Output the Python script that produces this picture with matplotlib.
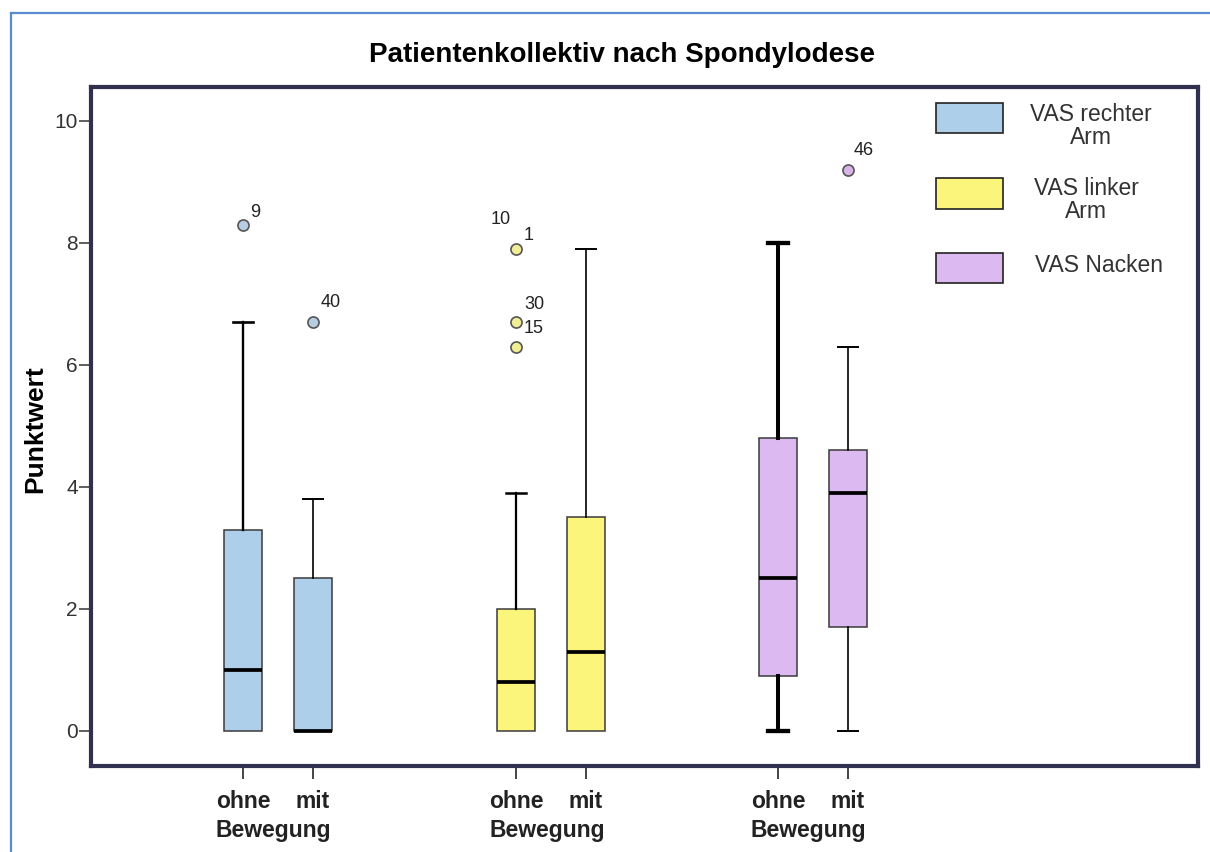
import matplotlib
matplotlib.use("Agg")
import matplotlib.pyplot as plt
from matplotlib.patches import Rectangle
from matplotlib.lines import Line2D

plt.rcParams['font.family'] = ['Liberation Sans', 'DejaVu Sans']

# ---- data -------------------------------------------------------------
series = ["VAS rechter\nArm", "VAS linker\nArm", "VAS Nacken"]
conditions = ["ohne", "mit"]
group_label = "Bewegung"

# five-number summaries per (series, condition): low whisker, Q1, median, Q3, high whisker
whislo = [0.0, 0.0, 0.0, 0.0, 0.0, 0.0]
q1 = [0.0, 0.0, 0.0, 0.0, 0.9, 1.7]
med = [1.0, 0.0, 0.8, 1.3, 2.5, 3.9]
q3 = [3.3, 2.5, 2.0, 3.5, 4.8, 4.6]
whishi = [6.7, 3.8, 3.9, 7.9, 8.0, 6.3]

# outliers (value, case number) per box
outliers = [
    [(8.3, "9")],
    [(6.7, "40")],
    [(7.9, "10"), (6.7, "30"), (6.3, "15")],
    [],
    [],
    [(9.2, "46")],
]
# extra case sharing an outlier value (drawn as second label)
shared_labels = {2: [(7.9, "1")]}

y_ticks = [0, 2, 4, 6, 8, 10]

# ---- styling ------------------------------------------------------------
box_colors = ["#aecfea", "#fbf57c", "#dcb9f0"]
flier_colors = ["#b7cde4", "#f1ef95", "#d9b2e6"]
frame_color = "#30304f"
whisker_lw = [1.7, 1.2, 1.6, 1.2, 2.9, 1.2]

W, H = 1210, 852
fig = plt.figure(figsize=(W / 100, H / 100), dpi=100)
ax = fig.add_axes([91 / W, (H - 766) / H, (1198 - 91) / W, (766 - 87) / H])


def fx(x):
    return x / W


def fy(y):
    return 1 - y / H


group_centers = [1.5, 5.4, 9.14]
positions = []
for c in group_centers:
    positions += [c - 0.5, c + 0.5]

stats = []
for i in range(6):
    stats.append(dict(whislo=whislo[i], q1=q1[i], med=med[i], q3=q3[i],
                      whishi=whishi[i], fliers=[v for v, _ in outliers[i]]))

bp = ax.bxp(stats, positions=positions, widths=0.54, capwidths=0.29,
            patch_artist=True, showfliers=True, manage_ticks=False)

for i in range(6):
    g = i // 2
    box = bp['boxes'][i]
    box.set_facecolor(box_colors[g])
    box.set_edgecolor("#3a3a3a")
    box.set_linewidth(1.1)
    bp['medians'][i].set_color("black")
    bp['medians'][i].set_linewidth(2.7)
    bp['medians'][i].set_zorder(3)
    for k in (2 * i, 2 * i + 1):
        bp['whiskers'][k].set_color("black")
        bp['whiskers'][k].set_linewidth(whisker_lw[i])
        bp['caps'][k].set_color("black")
        bp['caps'][k].set_linewidth(whisker_lw[i] + 0.2)
    # no lower whisker or cap when it coincides with the box edge
    if whislo[i] == q1[i]:
        bp['whiskers'][2 * i].set_visible(False)
        bp['caps'][2 * i].set_visible(False)
    fl = bp['fliers'][i]
    fl.set_marker("o")
    fl.set_markersize(8)
    fl.set_markerfacecolor(flier_colors[g])
    fl.set_markeredgecolor("#555555")
    fl.set_markeredgewidth(1.2)

# case-number labels next to outliers
label_offsets = {"9": (9, 9), "40": (13, 14), "10": (-11, 21), "30": (13, 13),
                 "15": (13, 13), "1": (9, 10), "46": (11, 14)}
for i in range(6):
    items = list(outliers[i]) + shared_labels.get(i, [])
    for v, lab in items:
        ax.annotate(lab, (positions[i], v), xytext=label_offsets[lab],
                    textcoords="offset points", ha="center", va="center",
                    fontsize=13, color="#222222")

ax.set_xlim(-1.171, 14.64)
ax.set_ylim(-0.574, 10.557)
ax.set_yticks(y_ticks)
ax.set_yticklabels([str(t) for t in y_ticks], fontsize=15, color="#333333")
ax.set_xticks(positions)
ax.set_xticklabels(conditions * 3, fontsize=16.5, fontweight="bold",
                   color="#222222")
ax.tick_params(axis="y", length=8.5, width=1.2, color="#444444", pad=1)
ax.tick_params(axis="x", length=9, width=1.4, color="#444444", pad=8)
for s in ax.spines.values():
    s.set_linewidth(3)
    s.set_color(frame_color)

for c in group_centers:
    ax.text(c - 0.06, -0.095, group_label, transform=ax.get_xaxis_transform(),
            ha="center", va="center", fontsize=16.5, fontweight="bold",
            color="#222222")

fig.text(fx(622), fy(55), "Patientenkollektiv nach Spondylodese",
         ha="center", va="center", fontsize=20, fontweight="bold")
fig.text(fx(35), fy(429), "Punktwert", rotation=90, ha="center",
         va="center", fontsize=19, fontweight="bold")

# legend drawn as swatches with centred labels
leg_rows = [(103, 133, 1091, 126), (178, 209, 1086, 200), (253, 283, 1099, 266)]
for (top, bot, tx, ty), lab, col in zip(leg_rows, series, box_colors):
    fig.add_artist(Rectangle((fx(936), fy(bot)), fx(1003) - fx(936),
                             fy(top) - fy(bot), transform=fig.transFigure,
                             facecolor=col, edgecolor="#222222", lw=1.2))
    fig.text(fx(tx), fy(ty), lab, ha="center", va="center",
             multialignment="center", fontsize=16.5, color="#333333",
             linespacing=0.95)

# outer window border
fig.add_artist(Line2D([fx(11), fx(11)], [fy(13), 0], transform=fig.transFigure,
                      color="#5a8bd0", lw=1.6))
fig.add_artist(Line2D([fx(11), 1], [fy(13), fy(13)], transform=fig.transFigure,
                      color="#5a8bd0", lw=1.6))

fig.savefig("out.png", dpi=100)
